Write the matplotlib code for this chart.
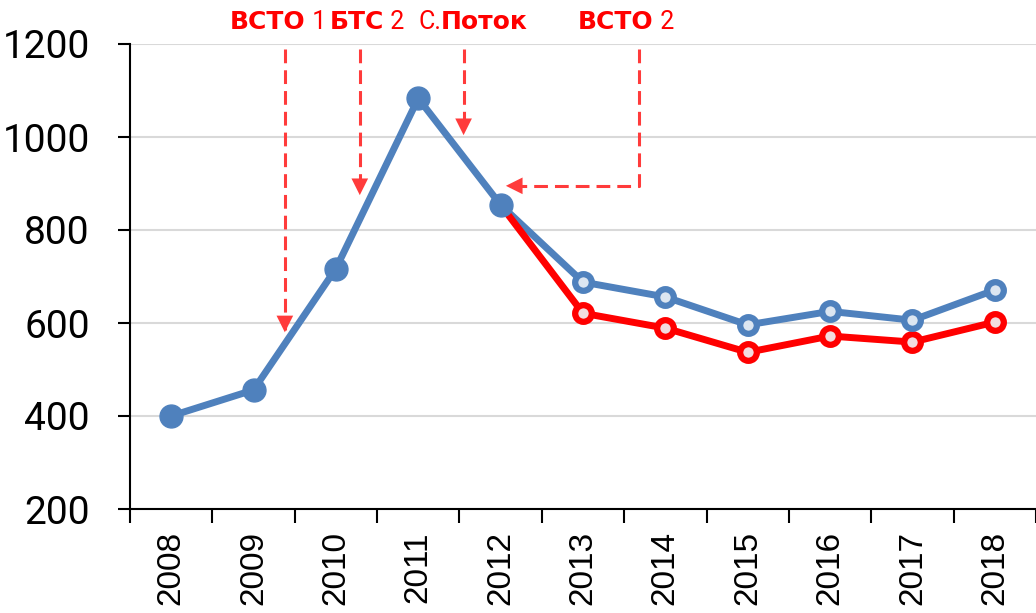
import matplotlib
matplotlib.use("Agg")
import matplotlib.pyplot as plt

years = ["2008", "2009", "2010", "2011", "2012", "2013", "2014", "2015", "2016", "2017", "2018"]
blue = [400, 456, 717, 1083, 854, 688, 656, 596, 625, 606, 671]
red = [854, 621, 589, 537, 572, 559, 602]   # 2012..2018

# annotation arrows: x position (category units), top y, tip y
arrows_v = [(1.38, 1190, 574), (2.29, 1190, 869), (3.55, 1190, 998)]
arrow_bent = [(5.68, 1190), (5.68, 895), (4.03, 895)]

# top labels: centre pixel and pieces (text, bold)
labels_top = [
    (278, [("ВСТО", True), (" 1", False)]),
    (367, [("БТС", True), (" 2", False)]),
    (473, [("С.", False), ("Поток", True)]),
    (626, [("ВСТО", True), (" 2", False)]),
]

BLUE = "#4f81bd"
RED = "#ff0000"
ARR = "#ff3b3b"
W, H = 1036, 613

fig = plt.figure(figsize=(W / 100, H / 100), dpi=100)
ax = fig.add_axes([130 / W, 1 - 509 / H, 1 - 130 / W, (509 - 44) / H])

x = list(range(len(years)))
xr = x[4:]

ax.plot(x, blue, color=BLUE, lw=5, zorder=3)
ax.plot(xr, red, color=RED, lw=5, zorder=4)
ax.plot(xr[1:], red[1:], ls="none", marker="o", ms=12, mew=4.5,
        mec=RED, mfc="#f2dcdf", zorder=5)
ax.plot(x[5:], blue[5:], ls="none", marker="o", ms=12, mew=4.5,
        mec=BLUE, mfc="#dce6f1", zorder=5)
ax.plot(x[:5], blue[:5], ls="none", marker="o", ms=16.5, color=BLUE, zorder=6)

# dashed arrows
head = dict(arrowstyle="-|>,head_length=0.6,head_width=0.3",
            color=ARR, lw=0, mutation_scale=20)
for ax_x, y0, y1 in arrows_v:
    ax.plot([ax_x, ax_x], [y0, y1 + 12], color=ARR, lw=2.2, dashes=(4.5, 2.3), zorder=2)
    ax.annotate("", xy=(ax_x, y1), xytext=(ax_x, y1 + 30), arrowprops=head, zorder=2)
bx = [p[0] for p in arrow_bent]
by = [p[1] for p in arrow_bent]
ax.plot(bx[:2] + [bx[2] + 0.1], by[:2] + [by[2]], color=ARR, lw=2.2,
        dashes=(4.5, 2.3), zorder=2)
ax.annotate("", xy=(bx[2], by[2]), xytext=(bx[2] + 0.3, by[2]), arrowprops=head, zorder=2)

ax.set_xlim(-0.5, len(years) - 0.5)
ax.set_ylim(200, 1200)
ax.set_yticks([200, 400, 600, 800, 1000, 1200])
ax.set_xticks([i - 0.5 for i in range(len(years) + 1)])
ax.set_xticklabels([])
ax.set_xticks(x, minor=True)
ax.set_xticklabels(years, minor=True, rotation=90, fontsize=24,
                   family=["Liberation Sans", "DejaVu Sans"])
ax.tick_params(axis="x", which="major", length=10, width=1.5, direction="out")
ax.tick_params(axis="x", which="minor", length=0, pad=16)
ax.tick_params(axis="y", length=9, width=1.5, direction="out", pad=20, labelsize=28)
for t in ax.get_yticklabels():
    t.set_family(["Roboto", "DejaVu Sans"])

ax.grid(axis="y", color="#d9d9d9", lw=1.5)
ax.set_axisbelow(True)
for s in ["top", "right"]:
    ax.spines[s].set_visible(False)
for s in ["left", "bottom"]:
    ax.spines[s].set_linewidth(1.5)
    ax.spines[s].set_zorder(7)

# top labels, bold and regular pieces placed one after another
fig.canvas.draw()
rend = fig.canvas.get_renderer()
for cx, pieces in labels_top:
    items = []
    for txt, bold in pieces:
        t = fig.text(0, 1 - 22 / H, txt, color="red", fontsize=18,
                     weight="bold" if bold else "normal", ha="left", va="center",
                     family=["DejaVu Sans"] if bold else ["Roboto", "DejaVu Sans"])
        items.append((t, t.get_window_extent(rend).width))
    total = sum(w for _, w in items)
    left = cx - total / 2
    for t, w in items:
        t.set_x(left / W)
        left += w

fig.savefig("out.png", dpi=100)
